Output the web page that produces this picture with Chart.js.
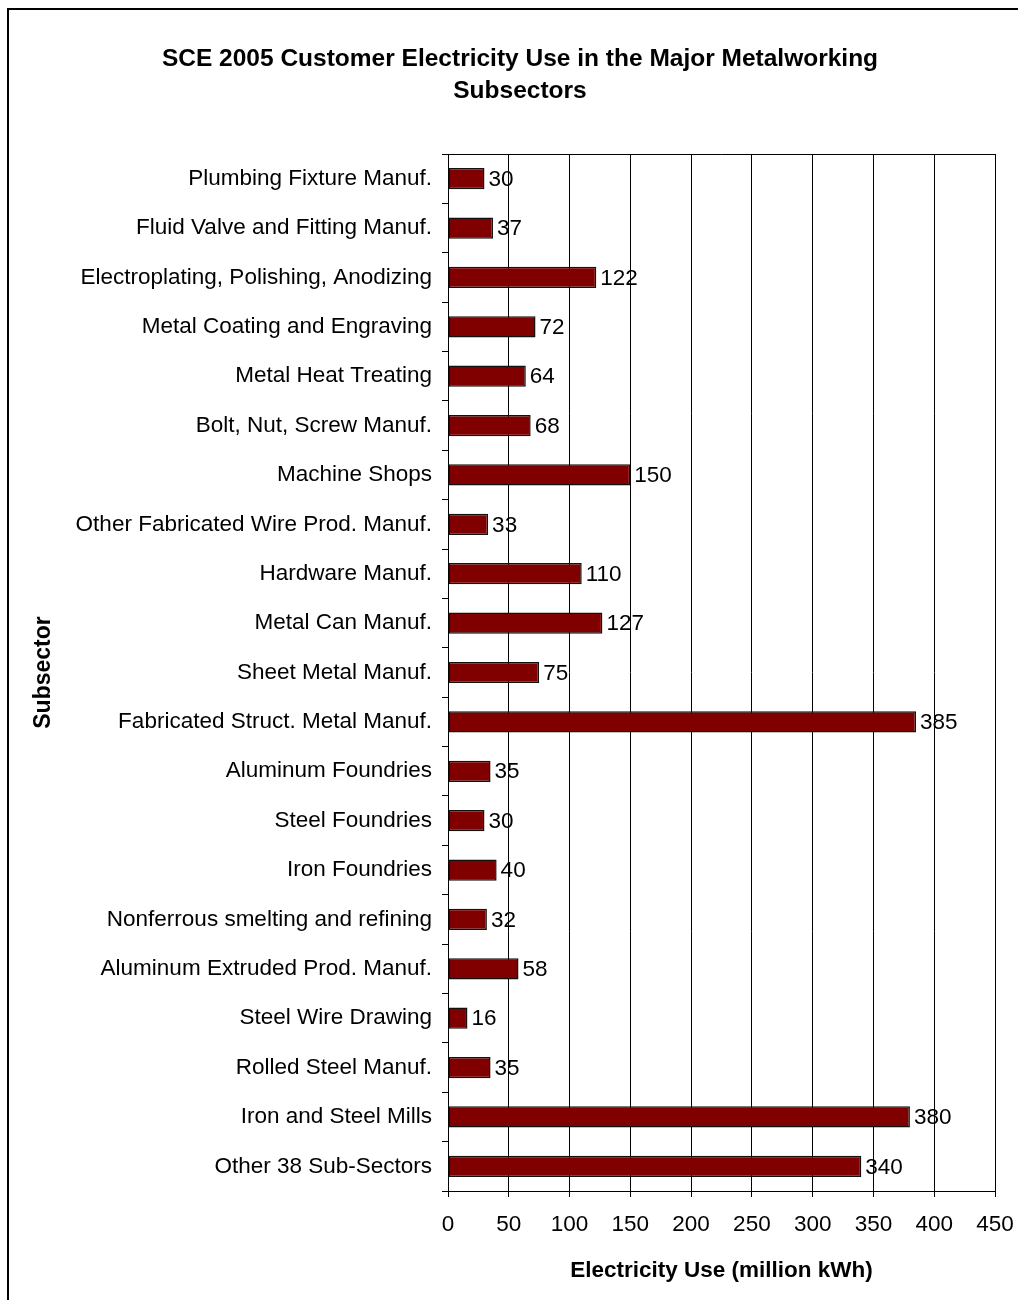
<!DOCTYPE html>
<html lang="en">
<head>
    <meta charset="UTF-8">
    <title>SCE 2005 Customer Electricity Use in the Major Metalworking Subsectors</title>
    <script src="https://cdn.jsdelivr.net/npm/chart.js@4/dist/chart.umd.min.js"></script>
    <style>
        body {
            margin: 0;
            background: #fff;
            font-family: 'Liberation Sans', Arial, sans-serif;
        }
        .frame {
            position: absolute;
            left: 7px;
            top: 8px;
            width: 1100px;
            height: 1400px;
            border-left: 2px solid #000;
            border-top: 2px solid #000;
        }
        .wrap {
            position: absolute;
            left: 0;
            top: 0;
            width: 1018px;
            height: 1300px;
            overflow: hidden;
        }
    </style>
</head>
<body>
    <div class="wrap">
        <div class="frame"></div>
        <canvas id="chart" width="1018" height="1300" style="position:absolute;left:0;top:0;"></canvas>
    </div>

    <script>
        const titleLines = ['SCE 2005 Customer Electricity Use in the Major Metalworking', 'Subsectors'];
        const subsectors = [
            'Plumbing Fixture Manuf.',
            'Fluid Valve and Fitting Manuf.',
            'Electroplating, Polishing, Anodizing',
            'Metal Coating and Engraving',
            'Metal Heat Treating',
            'Bolt, Nut, Screw Manuf.',
            'Machine Shops',
            'Other Fabricated Wire Prod. Manuf.',
            'Hardware Manuf.',
            'Metal Can Manuf.',
            'Sheet Metal Manuf.',
            'Fabricated Struct. Metal Manuf.',
            'Aluminum Foundries',
            'Steel Foundries',
            'Iron Foundries',
            'Nonferrous smelting and refining',
            'Aluminum Extruded Prod. Manuf.',
            'Steel Wire Drawing',
            'Rolled Steel Manuf.',
            'Iron and Steel Mills',
            'Other 38 Sub-Sectors'
        ];
        const electricityUse = [30, 37, 122, 72, 64, 68, 150, 33, 110, 127, 75, 385, 35, 30, 40, 32, 58, 16, 35, 380, 340];
        const xTicks = [0, 50, 100, 150, 200, 250, 300, 350, 400, 450];

        const FONT = "'Liberation Sans', Arial, sans-serif";
        Chart.defaults.font.family = FONT;
        Chart.defaults.color = '#000';

        // chart title, a little right of the canvas centre like the original
        const chartTitle = {
            id: 'chartTitle',
            afterDraw(chart) {
                const ctx = chart.ctx;
                ctx.save();
                ctx.font = 'bold 24.5px ' + FONT;
                ctx.fillStyle = '#000';
                ctx.textAlign = 'center';
                ctx.textBaseline = 'middle';
                titleLines.forEach((line, i) => {
                    ctx.fillText(line, chart.width / 2 + 11, 59 + i * 32);
                });
                ctx.restore();
            }
        };

        // value labels just right of each bar
        const valueLabels = {
            id: 'valueLabels',
            afterDatasetsDraw(chart) {
                const ctx = chart.ctx;
                const meta = chart.getDatasetMeta(0);
                ctx.save();
                ctx.font = '22.5px ' + FONT;
                ctx.fillStyle = '#000';
                ctx.textBaseline = 'middle';
                ctx.textAlign = 'left';
                meta.data.forEach((bar, i) => {
                    ctx.fillText(String(electricityUse[i]), bar.x + 4, bar.y + 1);
                });
                ctx.restore();
            }
        };

        // top and right edges of the plot area
        const plotBorder = {
            id: 'plotBorder',
            beforeDatasetsDraw(chart) {
                const a = chart.chartArea;
                const ctx = chart.ctx;
                ctx.save();
                ctx.strokeStyle = '#000';
                ctx.lineWidth = 1;
                ctx.beginPath();
                ctx.moveTo(a.left, a.top + 0.5);
                ctx.lineTo(a.right + 0.5, a.top + 0.5);
                ctx.lineTo(a.right + 0.5, a.bottom);
                ctx.stroke();
                ctx.restore();
            }
        };

        new Chart(document.getElementById('chart'), {
            type: 'bar',
            data: {
                labels: subsectors,
                datasets: [{
                    data: electricityUse,
                    backgroundColor: '#800000',
                    borderColor: '#111',
                    borderWidth: 1.5,
                    borderSkipped: false,
                    barPercentage: 0.43,
                    categoryPercentage: 1
                }]
            },
            options: {
                indexAxis: 'y',
                responsive: false,
                animation: false,
                layout: {
                    padding: { top: 154, right: 23, bottom: 0, left: 0 }
                },
                plugins: {
                    legend: { display: false },
                    tooltip: { enabled: false },
                    title: { display: false }
                },
                scales: {
                    x: {
                        min: 0,
                        max: 450,
                        afterBuildTicks(scale) {
                            scale.ticks = xTicks.map(v => ({ value: v }));
                        },
                        afterFit(scale) {
                            scale.height = 109;
                            scale.paddingLeft = 0;
                            scale.paddingRight = 0;
                        },
                        grid: {
                            color: '#000',
                            lineWidth: 1,
                            tickLength: 6
                        },
                        border: { color: '#000', width: 1 },
                        ticks: {
                            font: { size: 22.5 },
                            color: '#000',
                            padding: 14,
                            maxRotation: 0
                        },
                        title: {
                            display: true,
                            text: 'Electricity Use (million kWh)',
                            font: { size: 22.5, weight: 'bold' },
                            color: '#000',
                            padding: { top: 0, bottom: 16 }
                        }
                    },
                    y: {
                        afterFit(scale) {
                            scale.width = 448;
                            scale.paddingTop = 0;
                            scale.paddingBottom = 0;
                        },
                        grid: {
                            display: true,
                            drawOnChartArea: false,
                            offset: true,
                            color: '#000',
                            tickLength: 6
                        },
                        border: { color: '#000', width: 1 },
                        ticks: {
                            font: { size: 22.5 },
                            color: '#000',
                            padding: 10,
                            autoSkip: false
                        },
                        title: {
                            display: true,
                            text: 'Subsector',
                            font: { size: 23, weight: 'bold' },
                            color: '#000',
                            padding: { top: 30, bottom: 0 }
                        }
                    }
                }
            },
            plugins: [plotBorder, valueLabels, chartTitle]
        });
    </script>
</body>
</html>
